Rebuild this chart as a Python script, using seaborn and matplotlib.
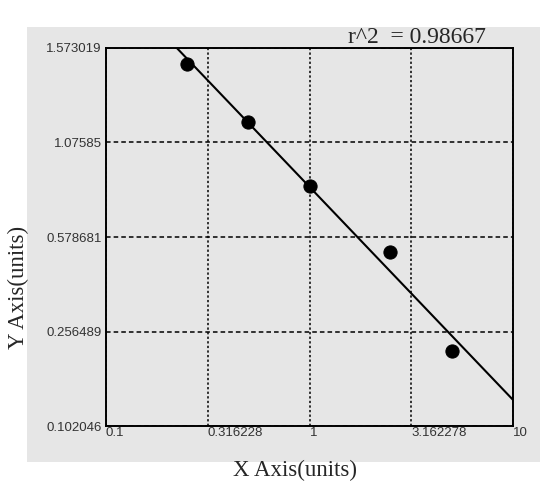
import numpy as np
import pandas as pd
import seaborn as sns
import matplotlib.pyplot as plt
from matplotlib.patches import Rectangle

# standard points
conc = [0.25, 0.5, 1.0, 2.5, 5.0]
signal = [1.489, 1.182, 0.847, 0.5275, 0.2241]

x_ticks = [0.1, 0.316228, 1, 3.162278, 10]
x_labels = ['0.1', '0.316228', '1', '3.162278', '10']
y_ticks = [0.102046, 0.256489, 0.578681, 1.07585, 1.573019]
y_labels = ['0.102046', '0.256489', '0.578681', '1.07585', '1.573019']
r2_text = 'r^2  = 0.98667'

sns.set_style("white")
plt.rcParams['font.family'] = ['Liberation Sans', 'DejaVu Sans']

pos = np.arange(len(y_ticks), dtype=float)
yt = np.array(y_ticks)


def y_fwd(v):
    v = np.asarray(v, dtype=float)
    t = np.interp(v, yt, pos)
    t = np.where(v < yt[0], (v - yt[0]) / (yt[1] - yt[0]), t)
    t = np.where(v > yt[-1], pos[-1] + (v - yt[-1]) / (yt[-1] - yt[-2]), t)
    return t


def y_inv(t):
    t = np.asarray(t, dtype=float)
    v = np.interp(t, pos, yt)
    v = np.where(t < 0, yt[0] + t * (yt[1] - yt[0]), v)
    v = np.where(t > pos[-1], yt[-1] + (t - pos[-1]) * (yt[-1] - yt[-2]), v)
    return v


# straight-line fit in the chart's own axis space
lx = np.log10(conc)
b, a = np.polyfit(lx, y_fwd(signal), 1)
fit_x = np.logspace(-1, 1, 200)
fit = pd.DataFrame({'x': fit_x, 'y': y_inv(a + b * np.log10(fit_x))})
pts = pd.DataFrame({'x': conc, 'y': signal})

fig = plt.figure(figsize=(5.49, 4.86), dpi=100)
fig.patch.set_facecolor('white')
fig.patches.append(Rectangle((27 / 549, 24 / 486), 513 / 549, 435 / 486,
                             transform=fig.transFigure, facecolor='#e6e6e6',
                             edgecolor='none', zorder=-5))
ax = fig.add_axes([106 / 549, 60 / 486, 407 / 549, 378 / 486])
ax.set_zorder(2)
ax.set_facecolor('#e6e6e6')
ax.set_xscale('log')
ax.set_yscale('function', functions=(y_fwd, y_inv))

sns.lineplot(data=fit, x='x', y='y', color='black', linewidth=1.5, ax=ax, zorder=3)
sns.scatterplot(data=pts, x='x', y='y', color='black', s=90, edgecolor='black', ax=ax, zorder=4)

ax.set_xlim(0.1, 10)
ax.set_ylim(y_ticks[0], y_ticks[-1])
ax.set_xticks(x_ticks)
ax.set_xticklabels(x_labels)
ax.xaxis.set_minor_locator(plt.NullLocator())
ax.set_yticks(y_ticks)
ax.set_yticklabels(y_labels)
ax.tick_params(length=0, labelsize=9.5, colors='#333333')
ax.tick_params(axis='x', pad=1)
ax.tick_params(axis='y', pad=3)
plt.setp(ax.get_xticklabels(), ha='left')

ax.xaxis.grid(True, color='black', linestyle=(0, (1.5, 1.5)), linewidth=1.1)
ax.yaxis.grid(True, color='black', linestyle=(0, (3, 2)), linewidth=1.1)
for s in ax.spines.values():
    s.set_visible(True)
    s.set_color('black')
    s.set_linewidth(1.4)

ax.set_xlabel('')
ax.set_ylabel('')
fig.text(295 / 549, 16 / 486, 'X Axis(units)', ha='center', va='center',
         fontsize=16.5, family='Liberation Serif')
fig.text(18 / 549, 199 / 486, 'Y Axis(units)', ha='center', va='center',
         rotation=90, fontsize=16.5, family='Liberation Serif')
fig.text(348 / 549, 443 / 486, r2_text, ha='left', va='baseline',
         fontsize=17, family='Liberation Serif')

fig.savefig('out.png', dpi=100)
